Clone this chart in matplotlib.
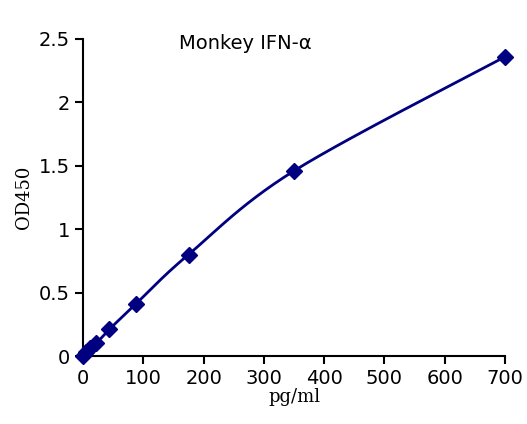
import numpy as np
import matplotlib
matplotlib.use("Agg")
import matplotlib.pyplot as plt

conc = [0, 5.47, 10.94, 21.88, 43.75, 87.5, 175, 350, 700]
od = [0.0, 0.03, 0.06, 0.1, 0.21, 0.41, 0.8, 1.46, 2.36]


def smooth(x, y, n=30):
    # Catmull-Rom style smoothing like a spreadsheet smoothed line
    x = np.asarray(x, float)
    y = np.asarray(y, float)
    px = np.concatenate([[x[0]], x, [x[-1]]])
    py = np.concatenate([[y[0]], y, [y[-1]]])
    xs, ys = [], []
    t = np.linspace(0, 1, n)
    for i in range(1, len(px) - 2):
        for p, out in ((px, xs), (py, ys)):
            p0, p1, p2, p3 = p[i - 1], p[i], p[i + 1], p[i + 2]
            m1 = (p2 - p0) / 6
            m2 = (p3 - p1) / 6
            c1 = p1 + m1
            c2 = p2 - m2
            out.extend((1 - t) ** 3 * p1 + 3 * (1 - t) ** 2 * t * c1
                       + 3 * (1 - t) * t ** 2 * c2 + t ** 3 * p2)
    return xs, ys


fig = plt.figure(figsize=(5.27, 4.24), dpi=100)
ax = fig.add_axes([83 / 527, 1 - 356 / 424, 422 / 527, 317 / 424])
sx, sy = smooth(conc, od)
ax.plot(sx, sy, color="#000080", lw=2, clip_on=False)
ax.plot(conc, od, ls="none", marker="D", ms=8, color="#000080", clip_on=False, zorder=5)
ax.set_xlim(0, 700)
ax.set_ylim(0, 2.5)
ax.set_xticks(range(0, 701, 100))
ax.set_yticks([0, 0.5, 1, 1.5, 2, 2.5])
ax.set_yticklabels(["0", "0.5", "1", "1.5", "2", "2.5"])
for s in ["top", "right"]:
    ax.spines[s].set_visible(False)
for s in ["left", "bottom"]:
    ax.spines[s].set_linewidth(1.5)
ax.tick_params(labelsize=14, width=1.5, length=6, direction="out")
ax.set_xlabel("pg/ml", family="DejaVu Serif", fontsize=13, labelpad=0)
ax.set_ylabel("OD450", family="DejaVu Serif", fontsize=13)
ax.text(270, 2.42, "Monkey IFN-α", fontsize=14, ha="center")
fig.savefig("out.png", dpi=100)
